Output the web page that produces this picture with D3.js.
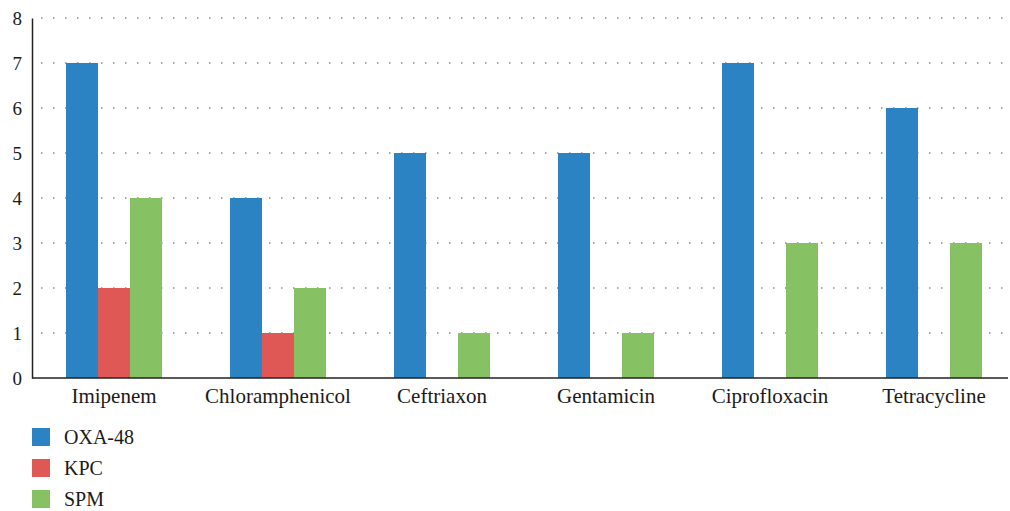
<!DOCTYPE html>
<html>
<head>
<meta charset="utf-8">
<script src="https://cdn.jsdelivr.net/npm/d3@7"></script>
<style>
  body { margin: 0; background: #fff; }
  text { font-family: "Liberation Serif", "DejaVu Serif", serif; fill: #1a1a1a; }
</style>
</head>
<body>
<svg id="chart" width="1010" height="511"></svg>
<script>
const categories = ["Imipenem", "Chloramphenicol", "Ceftriaxon", "Gentamicin", "Ciprofloxacin", "Tetracycline"];
const seriesNames = ["OXA-48", "KPC", "SPM"];
const oxa48 = [7, 4, 5, 5, 7, 6];
const kpc = [2, 1, 0, 0, 0, 0];
const spm = [4, 2, 1, 1, 3, 3];
const yTicks = [0, 1, 2, 3, 4, 5, 6, 7, 8];
const colors = ["#2b83c3", "#e05855", "#86c263"];

const series = [oxa48, kpc, spm];
const svg = d3.select("#chart");
const margin = { left: 32, right: 2, top: 18, bottom: 133 };
const width = 1010 - margin.left - margin.right,
    height = 511 - margin.top - margin.bottom;

const g = svg.append("g").attr("transform", `translate(${margin.left},${margin.top})`);

const x = d3.scaleBand().domain(categories).range([0, 984]);
const xInner = d3.scaleBand().domain(seriesNames).range([x.bandwidth() / 2 - 48, x.bandwidth() / 2 + 48]);
const y = d3.scaleLinear().domain([0, 8]).range([height, 0]);

// dotted gridlines
g.selectAll(".grid")
    .data(yTicks.filter(d => d > 0))
    .enter().append("line")
    .attr("x1", 9).attr("x2", width)
    .attr("y1", d => y(d)).attr("y2", d => y(d))
    .attr("stroke", "#8a8a8a")
    .attr("stroke-width", 1.5)
    .attr("stroke-dasharray", "1.5,10.5");

// bars
const groups = g.selectAll(".group")
    .data(categories)
    .enter().append("g")
    .attr("transform", d => `translate(${x(d)},0)`);

groups.selectAll("rect")
    .data((c, i) => series.map((s, k) => ({ name: seriesNames[k], value: s[i], k })))
    .enter().append("rect")
    .filter(d => d.value > 0)
    .attr("x", d => xInner(d.name))
    .attr("width", xInner.bandwidth())
    .attr("y", d => y(d.value))
    .attr("height", d => y(0) - y(d.value))
    .attr("fill", d => colors[d.k]);

// axes
const yAxis = g.append("g").call(d3.axisLeft(y).tickValues(yTicks).tickSize(0).tickPadding(10));
yAxis.select(".domain").attr("stroke", "#222").attr("stroke-width", 1.5);
yAxis.selectAll("text").style("font-size", "19px").attr("font-family", null);

const xAxis = g.append("g").attr("transform", `translate(0,${height})`)
    .call(d3.axisBottom(x).tickSize(0).tickPadding(10));
xAxis.select(".domain").remove();
xAxis.append("line").attr("x1", 0).attr("x2", width)
    .attr("stroke", "#222").attr("stroke-width", 1.5);
xAxis.selectAll("text").style("font-size", "21px").attr("font-family", null);

// legend
const legend = svg.append("g").attr("transform", "translate(32,428)");
const item = legend.selectAll(".item")
    .data(seriesNames)
    .enter().append("g")
    .attr("transform", (d, i) => `translate(0,${i * 31})`);
item.append("rect").attr("width", 18).attr("height", 18).attr("fill", (d, i) => colors[i]);
item.append("text").attr("x", 32).attr("y", 16).style("font-size", "20px").text(d => d);
</script>
</body>
</html>
